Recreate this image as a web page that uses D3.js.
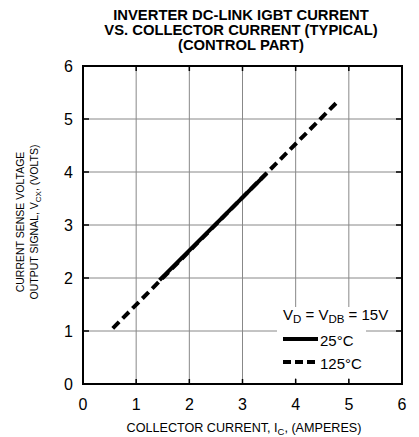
<!DOCTYPE html>
<html><head><meta charset="utf-8">
<script src="https://cdn.jsdelivr.net/npm/d3@7"></script>
<style>body{margin:0;background:#fff}svg{display:block}text{font-family:"Liberation Sans",Arial,sans-serif}</style>
</head><body>
<svg id="c" width="419" height="437"></svg>
<script>
const titleLines = ["INVERTER DC-LINK IGBT CURRENT","VS. COLLECTOR CURRENT (TYPICAL)","(CONTROL PART)"];
const xTicks = [0,1,2,3,4,5,6];
const yTicks = [0,1,2,3,4,5,6];
const dashed125 = [[0.56,1.05],[4.78,5.32]];
const solid25 = [[1.44,1.96],[3.45,3.97]];
const legendHeader = "15V";
const legendLabels = ["25°C","125°C"];

const svg = d3.select("#c");
const L=83,R=402,T=66,B=384;
const x = d3.scaleLinear().domain([0,6]).range([L,R]);
const y = d3.scaleLinear().domain([0,6]).range([B,T]);

// grid
svg.append("g").selectAll("line").data(xTicks.slice(1,-1)).join("line")
  .attr("x1",d=>x(d)).attr("x2",d=>x(d)).attr("y1",T).attr("y2",B)
  .attr("stroke","#888").attr("stroke-width",1);
svg.append("g").selectAll("line").data(yTicks.slice(1,-1)).join("line")
  .attr("y1",d=>y(d)).attr("y2",d=>y(d)).attr("x1",L).attr("x2",R)
  .attr("stroke","#888").attr("stroke-width",1);

// inner ticks
const tk = svg.append("g").attr("stroke","#000").attr("stroke-width",1.5);
xTicks.slice(1,-1).forEach(d=>{
  tk.append("line").attr("x1",x(d)).attr("x2",x(d)).attr("y1",T).attr("y2",T+5);
  tk.append("line").attr("x1",x(d)).attr("x2",x(d)).attr("y1",B).attr("y2",B-5);
});
yTicks.slice(1,-1).forEach(d=>{
  tk.append("line").attr("y1",y(d)).attr("y2",y(d)).attr("x1",L).attr("x2",L+6);
  tk.append("line").attr("y1",y(d)).attr("y2",y(d)).attr("x1",R).attr("x2",R-6);
});

// legend box (white)
svg.append("rect").attr("x",277).attr("y",307).attr("width",89).attr("height",71).attr("fill","#fff");

// lines
const line = d3.line().x(d=>x(d[0])).y(d=>y(d[1]));
svg.append("path").datum(dashed125).attr("d",line).attr("fill","none").attr("stroke","#000")
  .attr("stroke-width",4).attr("stroke-dasharray","9,5");
svg.append("path").datum(solid25).attr("d",line).attr("fill","none").attr("stroke","#000")
  .attr("stroke-width",4);

// frame
svg.append("rect").attr("x",L).attr("y",T).attr("width",R-L).attr("height",B-T)
  .attr("fill","none").attr("stroke","#000").attr("stroke-width",2);

// tick labels
svg.append("g").selectAll("text").data(xTicks).join("text")
  .attr("x",d=>x(d)).attr("y",410).attr("text-anchor","middle").attr("font-size",16).text(d=>d);
svg.append("g").selectAll("text").data(yTicks).join("text")
  .attr("x",73).attr("y",d=>y(d)+6).attr("text-anchor","end").attr("font-size",16).text(d=>d);

// title
svg.append("g").selectAll("text").data(titleLines).join("text")
  .attr("x",241).attr("y",(d,i)=>20+i*15).attr("text-anchor","middle")
  .attr("font-size",14.8).attr("font-weight","bold").text(d=>d);

// x axis title
const xt = svg.append("text").attr("x",244).attr("y",432).attr("text-anchor","middle").attr("font-size",12.6);
xt.append("tspan").text("COLLECTOR CURRENT, I");
xt.append("tspan").attr("font-size",9.5).attr("dy",3).text("C");
xt.append("tspan").attr("dy",-3).text(", (AMPERES)");

// y axis title
const yg = svg.append("g").attr("transform","translate(0,222) rotate(-90)");
yg.append("text").attr("x",0).attr("y",24).attr("text-anchor","middle").attr("font-size",10.5).text("CURRENT SENSE VOLTAGE");
const y2 = yg.append("text").attr("x",0).attr("y",38).attr("text-anchor","middle").attr("font-size",10.5);
y2.append("tspan").text("OUTPUT SIGNAL, V");
y2.append("tspan").attr("font-size",8).attr("dy",3).text("CX");
y2.append("tspan").attr("dy",-3).text(", (VOLTS)");

// legend
const lh = svg.append("text").attr("x",283).attr("y",320).attr("font-size",15);
lh.append("tspan").text("V");
lh.append("tspan").attr("font-size",11.5).attr("dy",3).text("D");
lh.append("tspan").attr("dy",-3).text(" = V");
lh.append("tspan").attr("font-size",11.5).attr("dy",3).text("DB");
lh.append("tspan").attr("dy",-3).text(" = " + legendHeader);
const lg = [{y:339,dash:null,label:legendLabels[0]},{y:362,dash:"8,4",label:legendLabels[1]}];
lg.forEach(o=>{
  const ln = svg.append("line").attr("x1",283).attr("x2",318).attr("y1",o.y).attr("y2",o.y)
    .attr("stroke","#000").attr("stroke-width",4);
  if(o.dash) ln.attr("stroke-dasharray",o.dash);
  svg.append("text").attr("x",320).attr("y",o.y+7).attr("font-size",15).text(o.label);
});
</script>
</body></html>
